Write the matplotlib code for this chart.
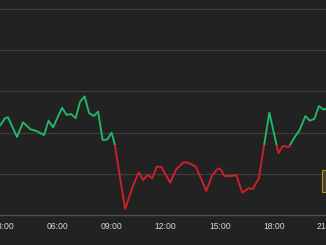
import matplotlib
matplotlib.use("Agg")
import matplotlib.pyplot as plt
from matplotlib.patches import Rectangle

# intraday price
times = ["02:50", "03:05", "03:15", "03:45", "04:05", "04:30", "04:50", "05:15",
         "05:30", "05:45", "06:15", "06:30", "06:45", "07:00", "07:15", "07:30",
         "07:45", "08:00", "08:15", "08:30", "08:45", "09:00", "09:10", "09:45",
         "10:10", "10:30", "10:45", "11:00", "11:15", "11:30", "11:45", "12:15",
         "12:35", "13:00", "13:15", "13:40", "14:00", "14:15", "14:35", "14:55",
         "15:05", "15:15", "15:40", "15:55", "16:15", "16:35", "16:50", "17:10",
         "17:45", "18:15", "18:30", "18:50", "19:10", "19:25", "19:45", "20:00",
         "20:15", "20:30", "20:45", "20:55"]
prices = [110.92, 111.74, 111.86, 109.47, 111.25, 110.40, 110.19, 109.71,
          111.44, 110.64, 113.02, 112.14, 112.26, 111.74, 113.75, 114.38,
          112.38, 112.01, 112.54, 109.10, 109.16, 109.99, 108.62, 100.73,
          103.43, 105.18, 104.25, 104.85, 104.45, 105.86, 105.86, 103.92,
          105.55, 106.40, 106.35, 105.86, 104.25, 102.91, 104.85, 105.67,
          105.46, 104.73, 104.73, 104.85, 102.71, 103.24, 103.16, 104.45,
          112.42, 107.52, 108.37, 108.25, 109.50, 110.25, 112.01, 111.44,
          111.67, 113.23, 112.80, 112.92]
prev_close = 108.5

tick_hours = [3, 6, 9, 12, 15, 18, 21]
tick_labels = ["03:00", "06:00", "09:00", "12:00", "15:00", "18:00", "21:00"]
grid_levels = [105, 110, 115, 120, 125]

BG = "#222222"
GREEN = "#23b866"
RED = "#d0202c"


def to_hours(s):
    hh, mm = s.split(":")
    return int(hh) + int(mm) / 60


x = [to_hours(t) for t in times]

fig = plt.figure(figsize=(3.26, 2.45), dpi=100, facecolor=BG)
ax = fig.add_axes([0, 30 / 245, 329 / 326, 215 / 245])
ax.set_facecolor(BG)
ax.set_xlim(2.806, 21.06)
ax.set_ylim(100, 126.09)

for g in grid_levels:
    ax.axhline(g, color="#3e3e3e", lw=0.9, zorder=1)

# one line, coloured by which side of the previous close it sits
green_line, = ax.plot(x, prices, color=GREEN, lw=1.35, zorder=3)
red_line, = ax.plot(x, prices, color=RED, lw=1.35, zorder=3)
above = Rectangle((0, prev_close), 30, 50, transform=ax.transData, visible=False)
below = Rectangle((0, prev_close - 50), 30, 50, transform=ax.transData, visible=False)
ax.add_patch(above)
ax.add_patch(below)
green_line.set_clip_path(above)
red_line.set_clip_path(below)

for side in ["top", "left", "right"]:
    ax.spines[side].set_visible(False)
ax.spines["bottom"].set_color("#505050")
ax.spines["bottom"].set_linewidth(1.0)

ax.set_yticks([])
ax.set_xticks(tick_hours)
ax.set_xticklabels(tick_labels, fontsize=6.2, color="#d8d8d8",
                   fontfamily="Liberation Sans")
ax.tick_params(axis="x", length=0, pad=5)

# cropped price tag at the right edge
fig.add_artist(Rectangle((322 / 326, (245 - 192) / 245), 6 / 326, 22 / 245,
                         transform=fig.transFigure, facecolor="#4a4220",
                         edgecolor="#a89030", lw=0.8))

fig.savefig("out.png", dpi=100, facecolor=BG)
